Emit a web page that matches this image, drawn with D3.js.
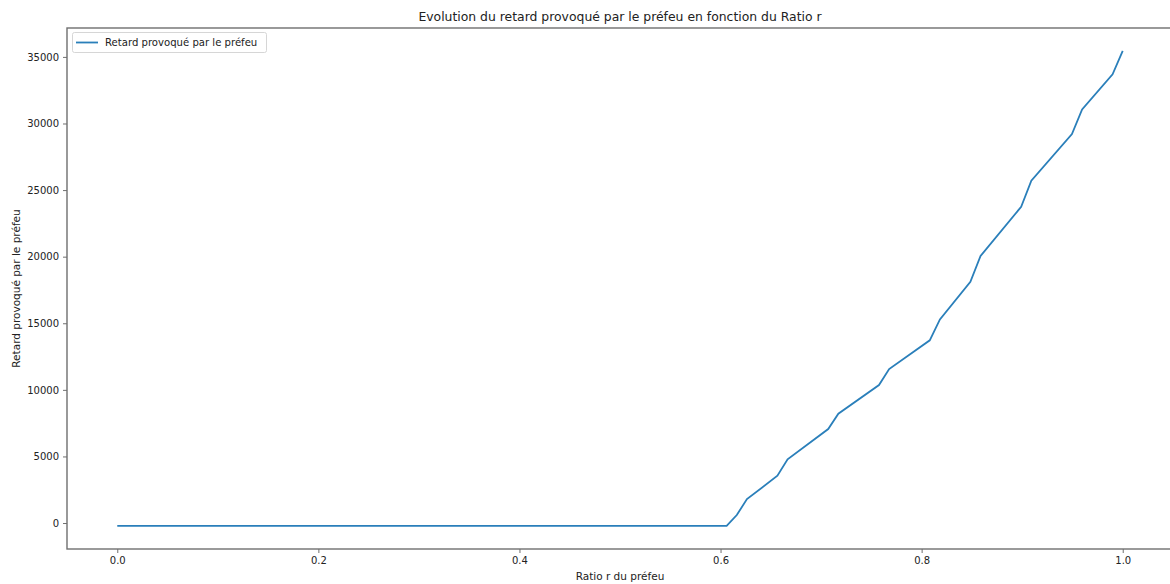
<!DOCTYPE html>
<html><head><meta charset="utf-8">
<script src="https://cdn.jsdelivr.net/npm/d3@7"></script>
<style>body{margin:0;background:#fff}svg{display:block}text{font-family:"DejaVu Sans",sans-serif;fill:#222}</style>
</head><body><svg id="c" width="1170" height="584"></svg>
<script>
// Knots of the polyline (r = i/99)
const ratioIndex = [0, 60, 61, 62, 65, 66, 70, 71, 75, 76, 80, 81, 84, 85, 89, 90, 94, 95, 98, 99];
const retard = [-220, -220, 600, 1800, 3550, 4780, 7060, 8210, 10360, 11560, 13720, 15290, 18120, 20050, 23750, 25700, 29210, 31060, 33690, 35460];
const xTicks = [0.0, 0.2, 0.4, 0.6, 0.8, 1.0];
const yTicks = [0, 5000, 10000, 15000, 20000, 25000, 30000, 35000];
const title = "Evolution du retard provoqué par le préfeu en fonction du Ratio r";
const xLabel = "Ratio r du préfeu";
const yLabel = "Retard provoqué par le préfeu";
const seriesName = "Retard provoqué par le préfeu";

const data = ratioIndex.map((i, k) => ({r: i / 99, v: retard[k]}));
const L = 67, R = 1173, T = 28, B = 549;
const svg = d3.select("#c");
const x = d3.scaleLinear().domain([-0.05, 1.05]).range([L, R]);
const y = d3.scaleLinear().domain([-1950, 37170]).range([B, T]);

svg.append("path").datum(data)
  .attr("d", d3.line().x(d => x(d.r)).y(d => y(d.v)))
  .attr("fill", "none").attr("stroke", "#2a7fba").attr("stroke-width", 1.8);

const spine = "#6f6f6f";
svg.append("rect").attr("x", L).attr("y", T).attr("width", R - L).attr("height", B - T)
  .attr("fill", "none").attr("stroke", spine).attr("stroke-width", 1.4);

const xa = svg.append("g").attr("transform", `translate(0,${B})`)
  .call(d3.axisBottom(x).tickValues(xTicks).tickFormat(d3.format(".1f")).tickSize(4).tickPadding(4));
const ya = svg.append("g").attr("transform", `translate(${L},0)`)
  .call(d3.axisLeft(y).tickValues(yTicks).tickFormat(d => String(d)).tickSize(4).tickPadding(4));
[xa, ya].forEach(a => {
  a.select(".domain").remove();
  a.selectAll("line").attr("stroke", spine);
  a.selectAll("text").style("font-family", "DejaVu Sans").style("font-size", "10px").attr("fill", "#222");
});

svg.append("text").attr("x", (L + R) / 2).attr("y", 21).attr("text-anchor", "middle")
  .style("font-size", "12.4px").text(title);
svg.append("text").attr("x", (L + R) / 2).attr("y", 580).attr("text-anchor", "middle")
  .style("font-size", "10.5px").text(xLabel);
svg.append("text").attr("transform", `translate(20,${(T + B) / 2}) rotate(-90)`).attr("text-anchor", "middle")
  .style("font-size", "10.5px").text(yLabel);

const lg = svg.append("g");
lg.append("rect").attr("x", 72.5).attr("y", 32.5).attr("width", 194).attr("height", 20).attr("rx", 2)
  .attr("fill", "#fff").attr("stroke", "#d6d6d6");
lg.append("line").attr("x1", 76).attr("x2", 98).attr("y1", 42.5).attr("y2", 42.5)
  .attr("stroke", "#2a7fba").attr("stroke-width", 1.8);
lg.append("text").attr("x", 105).attr("y", 46).style("font-size", "10.1px").text(seriesName);
</script></body></html>
